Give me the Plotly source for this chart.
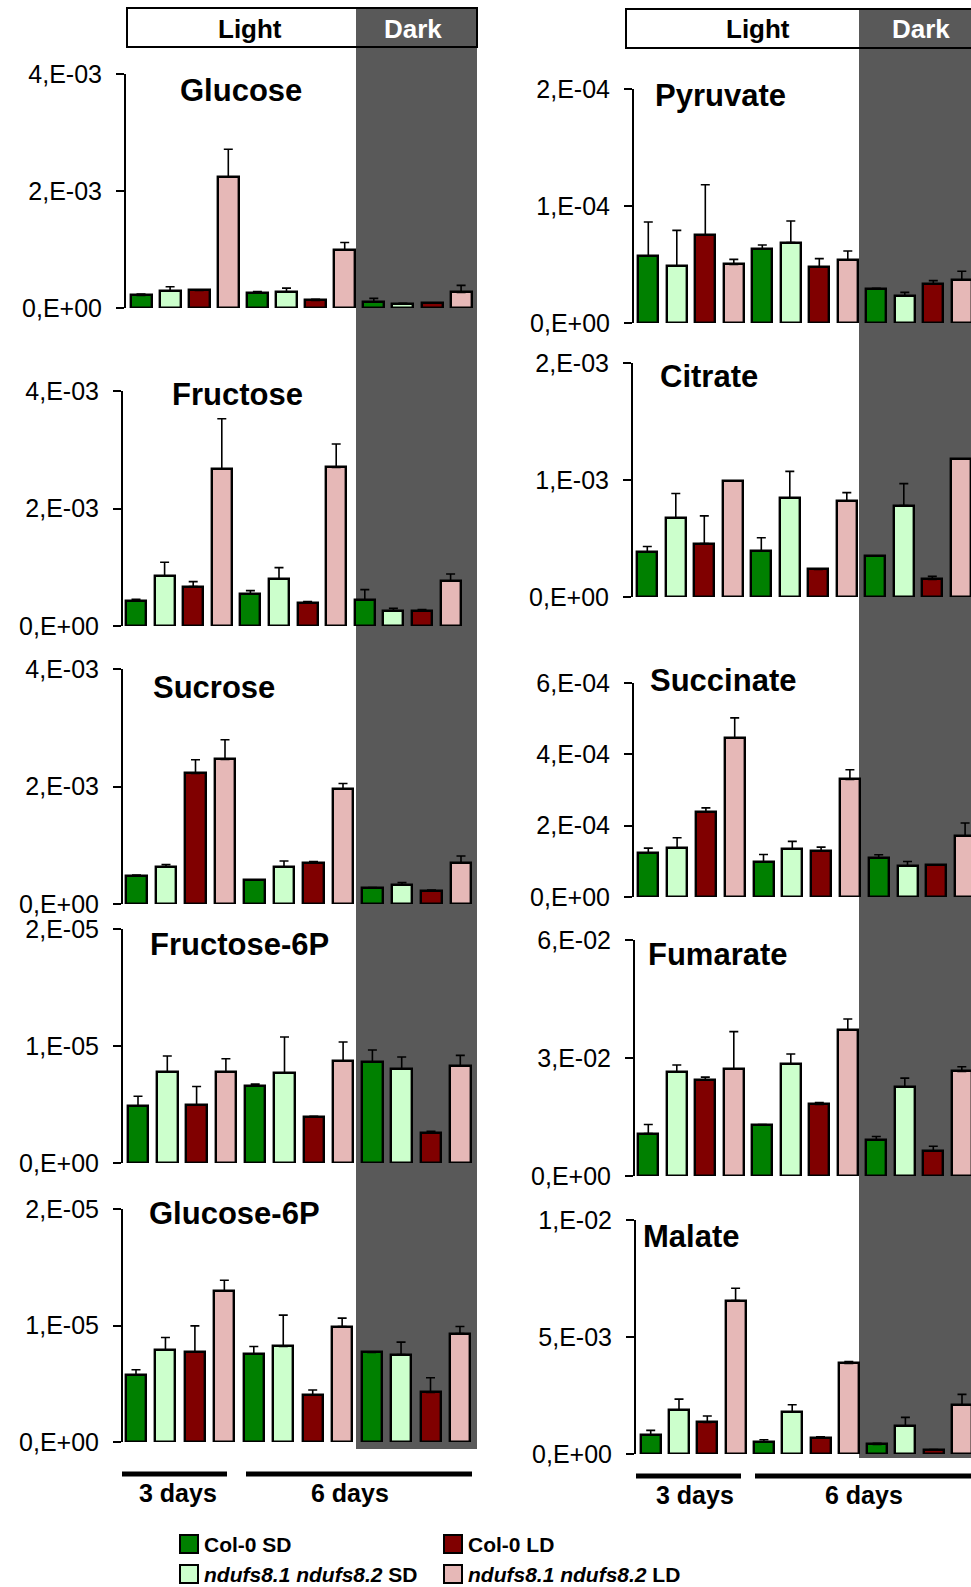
import plotly.graph_objects as go

W, H = 971, 1587
FONT = "Liberation Sans, Arial, sans-serif"

# ---------------- data ----------------
genotypes = ["Col-0 SD", "ndufs8.1 ndufs8.2 SD", "Col-0 LD", "ndufs8.1 ndufs8.2 LD"]
legend_labels = ["<b>Col-0 SD</b>", "<b><i>ndufs8.1 ndufs8.2</i> SD</b>",
                 "<b>Col-0 LD</b>", "<b><i>ndufs8.1 ndufs8.2</i> LD</b>"]
colors = ["#008000", "#CCFFCC", "#800000", "#E6B8B7"]
# bar order in each panel: 3 days light | 6 days light | 6 days dark, 4 genotypes each

glucose = [0.216, 0.296, 0.300, 2.236, 0.256, 0.273, 0.130, 0.996, 0.108, 0.068, 0.080, 0.267]
glucose_err = [0.024, 0.068, 0.010, 0.478, 0.024, 0.067, 0.018, 0.124, 0.057, 0.012, 0.005, 0.120]
fructose = [0.420, 0.852, 0.670, 2.676, 0.545, 0.795, 0.392, 2.699, 0.443, 0.261, 0.256, 0.761]
fructose_err = [0.035, 0.233, 0.086, 0.852, 0.057, 0.199, 0.023, 0.398, 0.176, 0.040, 0.022, 0.125]
sucrose = [0.472, 0.631, 2.222, 2.460, 0.409, 0.631, 0.693, 1.955, 0.267, 0.324, 0.227, 0.693]
sucrose_err = [0.022, 0.039, 0.233, 0.335, 0.0, 0.102, 0.029, 0.096, 0.011, 0.040, 0.012, 0.125]
f6p = [0.486, 0.777, 0.497, 0.780, 0.657, 0.769, 0.394, 0.871, 0.866, 0.803, 0.254, 0.829]
f6p_err = [0.085, 0.137, 0.157, 0.111, 0.017, 0.308, 0.006, 0.163, 0.100, 0.103, 0.017, 0.091]
g6p = [0.577, 0.791, 0.771, 1.294, 0.754, 0.820, 0.403, 0.991, 0.769, 0.751, 0.426, 0.931]
g6p_err = [0.043, 0.106, 0.226, 0.095, 0.066, 0.269, 0.043, 0.072, 0.002, 0.106, 0.125, 0.060]
pyruvate = [0.570, 0.487, 0.752, 0.501, 0.635, 0.687, 0.476, 0.541, 0.290, 0.228, 0.336, 0.365]
pyruvate_err = [0.293, 0.305, 0.430, 0.043, 0.032, 0.185, 0.074, 0.074, 0.006, 0.034, 0.026, 0.077]
citrate = [0.386, 0.676, 0.457, 0.989, 0.395, 0.844, 0.236, 0.821, 0.352, 0.781, 0.151, 1.182]
citrate_err = [0.046, 0.208, 0.236, 0.0, 0.111, 0.230, 0.0, 0.071, 0.0, 0.188, 0.025, 0.0]
succinate = [1.230, 1.371, 2.376, 4.451, 0.977, 1.352, 1.286, 3.296, 1.099, 0.873, 0.901, 1.718]
succinate_err = [0.141, 0.291, 0.122, 0.572, 0.215, 0.207, 0.113, 0.272, 0.084, 0.122, 0.0, 0.357]
fumarate = [1.079, 2.642, 2.438, 2.719, 1.308, 2.855, 1.818, 3.704, 0.909, 2.260, 0.637, 2.659]
fumarate_err = [0.229, 0.179, 0.077, 0.952, 0.0, 0.246, 0.051, 0.289, 0.094, 0.229, 0.119, 0.119]
malate = [0.825, 1.892, 1.351, 6.558, 0.526, 1.806, 0.697, 3.869, 0.413, 1.195, 0.185, 2.105]
malate_err = [0.185, 0.455, 0.271, 0.526, 0.086, 0.299, 0.043, 0.085, 0.042, 0.370, 0.0, 0.441]

# tick values / labels
ticks_4e3 = [0, 2e-3, 4e-3]
labels_4e3 = ["0,E+00", "2,E-03", "4,E-03"]
ticks_2e5 = [0, 1e-5, 2e-5]
labels_2e5 = ["0,E+00", "1,E-05", "2,E-05"]
ticks_2e4 = [0, 1e-4, 2e-4]
labels_2e4 = ["0,E+00", "1,E-04", "2,E-04"]
ticks_2e3 = [0, 1e-3, 2e-3]
labels_2e3 = ["0,E+00", "1,E-03", "2,E-03"]
ticks_6e4 = [0, 2e-4, 4e-4, 6e-4]
labels_6e4 = ["0,E+00", "2,E-04", "4,E-04", "6,E-04"]
ticks_6e2 = [0, 3e-2, 6e-2]
labels_6e2 = ["0,E+00", "3,E-02", "6,E-02"]
ticks_1e2 = [0, 5e-3, 1e-2]
labels_1e2 = ["0,E+00", "5,E-03", "1,E-02"]

# name, means, errs, unit, ymax, ticks, ticklabels
panels_data = [
    ("Glucose", glucose, glucose_err, 1e-3, 4e-3, ticks_4e3, labels_4e3),
    ("Fructose", fructose, fructose_err, 1e-3, 4e-3, ticks_4e3, labels_4e3),
    ("Sucrose", sucrose, sucrose_err, 1e-3, 4e-3, ticks_4e3, labels_4e3),
    ("Fructose-6P", f6p, f6p_err, 1e-5, 2e-5, ticks_2e5, labels_2e5),
    ("Glucose-6P", g6p, g6p_err, 1e-5, 2e-5, ticks_2e5, labels_2e5),
    ("Pyruvate", pyruvate, pyruvate_err, 1e-4, 2e-4, ticks_2e4, labels_2e4),
    ("Citrate", citrate, citrate_err, 1e-3, 2e-3, ticks_2e3, labels_2e3),
    ("Succinate", succinate, succinate_err, 1e-4, 6e-4, ticks_6e4, labels_6e4),
    ("Fumarate", fumarate, fumarate_err, 1e-2, 6e-2, ticks_6e2, labels_6e2),
    ("Malate", malate, malate_err, 1e-3, 1e-2, ticks_1e2, labels_1e2),
]

# ---------------- layout geometry (pixels) ----------------
# axis_x, first bar centre, bar spacing, bar width, right edge, top px, zero px, title x, title y
geom = [
    (126, 141.0, 29.1, 21, 477, 74, 308, 241, 91),
    (123, 136.0, 28.6, 20, 477, 391, 626, 237, 395),
    (123, 136.5, 29.5, 20.5, 477, 669, 904, 214, 687),
    (123, 138.0, 29.3, 20.5, 477, 929, 1163, 239, 944),
    (123, 136.0, 29.45, 20, 477, 1209, 1442, 234, 1213),
    (634, 648.3, 28.5, 20, 971, 89, 323, 720, 95),
    (633, 647.3, 28.5, 20, 971, 363, 597, 709, 376),
    (634, 648.3, 28.8, 20, 971, 683, 897, 723, 680),
    (635, 648.3, 28.5, 20, 971, 940, 1176, 718, 954),
    (636, 650.7, 28.3, 20, 971, 1220, 1454, 691, 1236),
]


def fx(px):
    return px / W


def fy(py):
    return 1 - py / H


fig = go.Figure()
shapes = []
annotations = []

# dark background regions & header boxes
DARK = "#595959"
shapes.append(dict(type="rect", xref="paper", yref="paper", layer="below",
                   x0=fx(356), x1=fx(477), y0=fy(1449), y1=fy(8),
                   fillcolor=DARK, line=dict(width=0)))
shapes.append(dict(type="rect", xref="paper", yref="paper", layer="below",
                   x0=fx(859), x1=fx(975), y0=fy(1458), y1=fy(9),
                   fillcolor=DARK, line=dict(width=0)))
shapes.append(dict(type="rect", xref="paper", yref="paper", layer="above",
                   x0=fx(127), x1=fx(477), y0=fy(47), y1=fy(8),
                   line=dict(color="black", width=2)))
shapes.append(dict(type="rect", xref="paper", yref="paper", layer="above",
                   x0=fx(626), x1=fx(980), y0=fy(48), y1=fy(9),
                   line=dict(color="black", width=2)))
for txt, x, y, col in [("Light", 250, 29, "black"), ("Dark", 413, 29, "white"),
                       ("Light", 758, 29, "black"), ("Dark", 921, 29, "white")]:
    annotations.append(dict(text=f"<b>{txt}</b>", x=fx(x), y=fy(y), xref="paper", yref="paper",
                            showarrow=False, xanchor="center", yanchor="middle",
                            font=dict(family=FONT, size=26, color=col)))

for i, ((name, means, errs, unit, ymax, tv, tt), g) in enumerate(zip(panels_data, geom)):
    ax_x, c0, sp, bw, right, top, zero, tx, ty = g
    idx = i + 1
    xa = "x" if idx == 1 else f"x{idx}"
    ya = "y" if idx == 1 else f"y{idx}"
    for k in range(4):
        xs = [grp * 4 + k for grp in range(3)]
        ys = [means[grp * 4 + k] * unit for grp in range(3)]
        es = [errs[grp * 4 + k] * unit for grp in range(3)]
        fig.add_trace(go.Bar(
            x=xs, y=ys, xaxis=xa, yaxis=ya, width=bw / sp,
            name=genotypes[k], showlegend=False,
            marker=dict(color=colors[k], line=dict(color="black", width=2.4)),
            error_y=dict(type="data", symmetric=False, array=es, arrayminus=[0] * 3,
                         color="black", thickness=1.6, width=4.5),
        ))
    xr0 = (ax_x - c0) / sp
    xr1 = (right - c0) / sp
    fig.layout[f"xaxis{idx if idx > 1 else ''}"] = dict(
        domain=[fx(ax_x), fx(right)], range=[xr0, xr1], anchor=ya, automargin=False,
        showline=False, showticklabels=False, ticks="", showgrid=False, zeroline=False,
        fixedrange=True)
    fig.layout[f"yaxis{idx if idx > 1 else ''}"] = dict(
        domain=[fy(zero), fy(top)], range=[0, ymax], anchor=xa, automargin=False,
        showline=True, linecolor="black", linewidth=2, ticks="outside", ticklen=8,
        tickwidth=2, tickcolor="black", tickvals=tv, ticktext=tt, showgrid=False,
        zeroline=False, ticklabelstandoff=9, fixedrange=True,
        tickfont=dict(family=FONT, size=25, color="black"))
    annotations.append(dict(text=f"<b>{name}</b>", x=fx(tx), y=fy(ty), xref="paper", yref="paper",
                            showarrow=False, xanchor="center", yanchor="middle",
                            font=dict(family=FONT, size=31, color="black")))

# time bars under the panels
for x0, x1, y in [(122, 227, 1474), (246, 472, 1474), (636, 741, 1476), (755, 975, 1476)]:
    shapes.append(dict(type="line", xref="paper", yref="paper", x0=fx(x0), x1=fx(x1),
                       y0=fy(y), y1=fy(y), line=dict(color="black", width=5)))
for txt, x, y in [("3 days", 178, 1493), ("6 days", 350, 1493),
                  ("3 days", 695, 1495), ("6 days", 864, 1495)]:
    annotations.append(dict(text=f"<b>{txt}</b>", x=fx(x), y=fy(y), xref="paper", yref="paper",
                            showarrow=False, xanchor="center", yanchor="middle",
                            font=dict(family=FONT, size=25, color="black")))

# legend (manual swatches)
leg_pos = [(180, 1544), (180, 1574), (444, 1544), (444, 1574)]
for k in range(4):
    lx, ly = leg_pos[k]
    shapes.append(dict(type="rect", xref="paper", yref="paper", x0=fx(lx), x1=fx(lx + 18),
                       y0=fy(ly + 9), y1=fy(ly - 9), fillcolor=colors[k],
                       line=dict(color="black", width=2)))
    annotations.append(dict(text=legend_labels[k], x=fx(lx + 22), y=fy(ly), xref="paper",
                            yref="paper", showarrow=False, xanchor="left", yanchor="middle",
                            font=dict(family=FONT, size=21, color="black")))

fig.update_layout(
    template="none",
    width=W, height=H, margin=dict(l=0, r=0, t=0, b=0, pad=0, autoexpand=False),
    paper_bgcolor="white", plot_bgcolor="rgba(0,0,0,0)",
    barmode="overlay", bargap=0, showlegend=False,
    shapes=shapes, annotations=annotations,
    font=dict(family=FONT, color="black"),
)

fig.write_html("out.html")
